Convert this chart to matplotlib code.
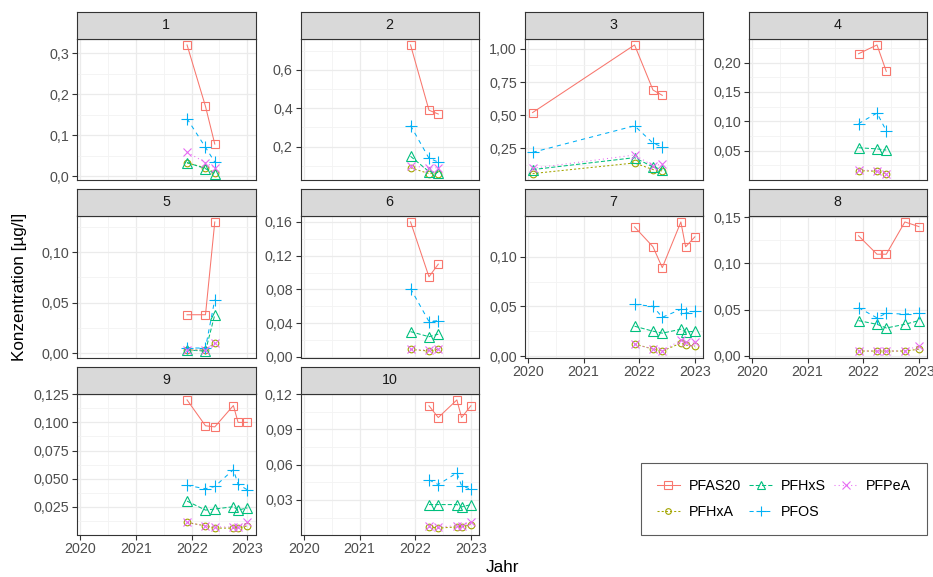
import matplotlib
matplotlib.use("Agg")
import matplotlib.pyplot as plt
import matplotlib.dates as mdates
from matplotlib.ticker import FixedLocator, AutoMinorLocator, FuncFormatter
from matplotlib.lines import Line2D
import pandas as pd

plt.rcParams['font.family'] = ['Liberation Sans', 'DejaVu Sans']

# Data: one list per site (facet)
SITES = [1, 2, 3, 4, 5, 6, 7, 8, 9, 10]
D3 = ["2021-12-01", "2022-04-01", "2022-06-01"]
DATES = [
    D3,
    D3,
    ["2020-02-01", "2021-12-01", "2022-04-01", "2022-06-01"],
    D3,
    D3,
    D3,
    ["2021-12-01", "2022-04-01", "2022-06-01", "2022-10-01", "2022-11-01", "2023-01-01"],
    ["2021-12-01", "2022-04-01", "2022-06-01", "2022-10-01", "2023-01-01"],
    ["2021-12-01", "2022-04-01", "2022-06-01", "2022-10-01", "2022-11-01", "2023-01-01"],
    ["2022-04-01", "2022-06-01", "2022-10-01", "2022-11-01", "2023-01-01"],
]
PFAS20 = [
    [0.32, 0.17, 0.078],
    [0.73, 0.39, 0.37],
    [0.52, 1.03, 0.69, 0.65],
    [0.215, 0.23, 0.185],
    [0.038, 0.038, 0.13],
    [0.16, 0.095, 0.11],
    [0.13, 0.11, 0.089, 0.135, 0.11, 0.12],
    [0.13, 0.11, 0.11, 0.145, 0.14],
    [0.12, 0.097, 0.096, 0.115, 0.10, 0.10],
    [0.11, 0.10, 0.115, 0.10, 0.11],
]
PFHXA = [
    [0.032, 0.02, 0.008],
    [0.09, 0.06, 0.06],
    [0.06, 0.14, 0.09, 0.08],
    [0.016, 0.015, 0.011],
    [0.003, 0.003, 0.010],
    [0.009, 0.007, 0.009],
    [0.012, 0.007, 0.005, 0.013, 0.011, 0.010],
    [0.005, 0.005, 0.005, 0.005, 0.007],
    [0.011, 0.008, 0.006, 0.006, 0.006, 0.008],
    [0.007, 0.006, 0.007, 0.007, 0.009],
]
PFHXS = [
    [0.033, 0.018, 0.006],
    [0.15, 0.07, 0.065],
    [0.09, 0.18, 0.11, 0.09],
    [0.055, 0.053, 0.051],
    [0.003, 0.002, 0.038],
    [0.030, 0.024, 0.027],
    [0.030, 0.025, 0.023, 0.027, 0.024, 0.025],
    [0.038, 0.034, 0.030, 0.034, 0.038],
    [0.030, 0.022, 0.023, 0.025, 0.022, 0.024],
    [0.026, 0.026, 0.026, 0.024, 0.026],
]
PFOS = [
    [0.14, 0.07, 0.034],
    [0.31, 0.14, 0.12],
    [0.22, 0.42, 0.29, 0.26],
    [0.096, 0.114, 0.084],
    [0.005, 0.005, 0.053],
    [0.081, 0.042, 0.043],
    [0.052, 0.05, 0.039, 0.047, 0.043, 0.045],
    [0.052, 0.041, 0.046, 0.045, 0.046],
    [0.044, 0.041, 0.043, 0.058, 0.045, 0.04],
    [0.047, 0.043, 0.053, 0.042, 0.039],
]
PFPEA = [
    [0.058, 0.033, 0.02],
    [0.10, 0.09, 0.09],
    [0.10, 0.20, 0.12, 0.13],
    [0.017, 0.016, 0.011],
    [0.003, 0.003, 0.010],
    [0.009, 0.008, 0.010],
    [0.012, 0.007, 0.005, 0.016, 0.014, 0.014],
    [0.005, 0.005, 0.005, 0.005, 0.011],
    [0.011, 0.008, 0.007, 0.007, 0.007, 0.011],
    [0.008, 0.007, 0.008, 0.008, 0.011],
]
Y_BREAKS = [
    [0.0, 0.1, 0.2, 0.3],
    [0.2, 0.4, 0.6],
    [0.25, 0.50, 0.75, 1.00],
    [0.00, 0.05, 0.10, 0.15, 0.20],
    [0.00, 0.05, 0.10],
    [0.00, 0.04, 0.08, 0.12, 0.16],
    [0.00, 0.05, 0.10],
    [0.00, 0.05, 0.10, 0.15],
    [0.025, 0.050, 0.075, 0.100, 0.125],
    [0.03, 0.06, 0.09, 0.12],
]
Y_DECIMALS = [1, 1, 2, 2, 2, 2, 2, 2, 3, 2]

SERIES = {"PFAS20": PFAS20, "PFHxA": PFHXA, "PFHxS": PFHXS, "PFOS": PFOS, "PFPeA": PFPEA}

# Styles (ggplot default hue palette, shapes 0-4, linetypes)
STYLE = {
    "PFAS20": dict(color="#F8766D", marker="s", ls="-", ms=6.0),
    "PFHxA": dict(color="#A3A500", marker="o", ls=(0, (2, 2)), ms=4.8),
    "PFHxS": dict(color="#00BF7D", marker="^", ls=(0, (4, 2)), ms=6.5),
    "PFOS": dict(color="#00B0F6", marker="+", ls=(0, (4, 4)), ms=8.5),
    "PFPeA": dict(color="#E76BF3", marker="x", ls=(0, (1, 3)), ms=6.0),
}

rows = []
for i, site in enumerate(SITES):
    for name, vals in SERIES.items():
        for d, v in zip(DATES[i], vals[i]):
            rows.append((site, name, d, v))
df = pd.DataFrame(rows, columns=["site", "substance", "date", "value"])
df["date"] = pd.to_datetime(df["date"])

W, H = 933, 577
fig = plt.figure(figsize=(W / 100, H / 100), dpi=100)

col_left = [77, 300.5, 524.5, 748.5]
panel_w = 178.5
row_top = [38.5, 215.5, 393.5]
row_bot = [180, 357.5, 534.5]
strip_h = 26.5

# shared x range with ggplot 5% expansion
xmin = mdates.date2num(df["date"].min())
xmax = mdates.date2num(df["date"].max())
xpad = 0.05 * (xmax - xmin)

GRID = "#EBEBEB"
DARK = "#333333"

def fmt_factory(dec):
    return FuncFormatter(lambda v, p: f"{v:.{dec}f}".replace(".", ","))

for i, site in enumerate(SITES):
    r, c = divmod(i, 4)
    left = col_left[c] / W
    bottom = 1 - row_bot[r] / H
    height = (row_bot[r] - row_top[r]) / H
    ax = fig.add_axes([left, bottom, panel_w / W, height])
    sub = df[df["site"] == site]
    for name in SERIES:
        s = sub[sub["substance"] == name]
        st = STYLE[name]
        ax.plot(s["date"], s["value"], color=st["color"], ls=st["ls"], lw=0.75,
                marker=st["marker"], ms=st["ms"], mfc="none", mec=st["color"], mew=0.8)
    ymin, ymax = sub["value"].min(), sub["value"].max()
    ypad = 0.05 * (ymax - ymin)
    ax.set_ylim(ymin - ypad, ymax + ypad)
    ax.set_xlim(xmin - xpad, xmax + xpad)

    ax.yaxis.set_major_locator(FixedLocator(Y_BREAKS[i]))
    ax.yaxis.set_minor_locator(AutoMinorLocator(2))
    ax.yaxis.set_major_formatter(fmt_factory(Y_DECIMALS[i]))
    ax.xaxis.set_major_locator(mdates.YearLocator())
    ax.xaxis.set_minor_locator(mdates.MonthLocator(bymonth=7))
    ax.xaxis.set_major_formatter(mdates.DateFormatter("%Y"))

    ax.grid(True, which="major", color=GRID, lw=0.9)
    ax.grid(True, which="minor", color="#F3F3F3", lw=0.6)
    ax.set_axisbelow(True)
    for sp in ax.spines.values():
        sp.set_color(DARK)
        sp.set_linewidth(0.8)
    ax.tick_params(which="major", length=3.5, width=0.8, color=DARK,
                   labelsize=10.3, labelcolor="#4D4D4D", pad=2)
    ax.tick_params(which="minor", length=0)
    bottom_row = (i + 4) >= len(SITES)
    if not bottom_row:
        ax.tick_params(axis="x", which="major", length=0, labelbottom=False)

    # strip
    sax = fig.add_axes([left, 1 - row_top[r] / H, panel_w / W, strip_h / H])
    sax.set_facecolor("#D9D9D9")
    sax.set_xticks([])
    sax.set_yticks([])
    for sp in sax.spines.values():
        sp.set_color(DARK)
        sp.set_linewidth(0.8)
    sax.text(0.5, 0.5, str(site), ha="center", va="center", fontsize=10.3,
             color="#1A1A1A", transform=sax.transAxes)

fig.text(20 / W, 1 - 287 / H, "Konzentration [µg/l]", rotation=90,
         ha="center", va="center", fontsize=12.3)
fig.text(502 / W, 1 - 568 / H, "Jahr", ha="center", va="center", fontsize=12.3)

handles = []
for name in SERIES:
    st = STYLE[name]
    handles.append(Line2D([], [], color=st["color"], ls=st["ls"], lw=0.75,
                          marker=st["marker"], ms=st["ms"] * 0.85, mfc="none",
                          mec=st["color"], mew=0.8))
leg = fig.legend(handles, list(SERIES.keys()), ncol=3, loc="center",
                 bbox_to_anchor=(784 / W, 1 - 499 / H),
                 fontsize=10.3, frameon=True, fancybox=False,
                 handlelength=1.6, columnspacing=0.6, handletextpad=0.6,
                 borderpad=1.1, labelspacing=0.85, borderaxespad=0)
leg.get_frame().set_edgecolor(DARK)
leg.get_frame().set_linewidth(0.8)

fig.savefig("out.png", dpi=100)
